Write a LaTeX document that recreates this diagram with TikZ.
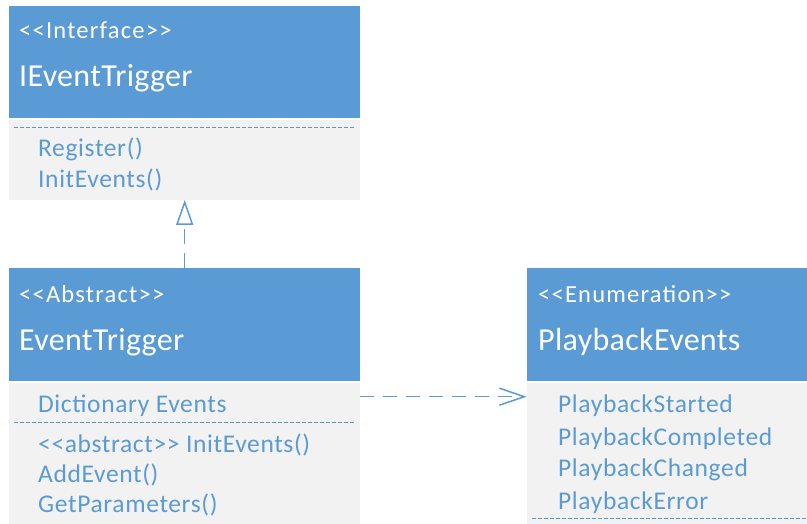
\documentclass[tikz,border=0pt]{standalone}
\usepackage{fontspec}
\setmainfont{Carlito}
\usetikzlibrary{arrows.meta}
\definecolor{hblue}{HTML}{5B9BD5}
\definecolor{bgrey}{HTML}{F2F2F2}
\begin{document}
\begin{tikzpicture}[x=1pt,y=-1pt,
  hdr/.style={fill=hblue,draw=none,anchor=north west,inner sep=0pt},
  bdy/.style={fill=bgrey,draw=none,anchor=north west,inner sep=0pt},
  stereo/.style={anchor=base west,inner sep=0pt,text=white,font=\fontsize{24.5}{28}\selectfont\addfontfeature{LetterSpace=5}},
  ttl/.style={anchor=base west,inner sep=0pt,text=white,font=\fontsize{32}{38}\selectfont\addfontfeature{LetterSpace=1}},
  itm/.style={anchor=base west,inner sep=0pt,text=hblue,font=\fontsize{25.5}{30}\selectfont\addfontfeature{LetterSpace=2.5}},
  sep/.style={draw=hblue,line width=1.4pt,dash pattern=on 4pt off 2pt},
  real/.style={draw=hblue,line width=1.5pt,dash pattern=on 15pt off 9pt,-{Triangle[open,length=25pt,width=17pt,line width=1.5pt]}},
  dep/.style={draw=hblue,line width=1.5pt,dash pattern=on 14pt off 9pt,-{Straight Barb[length=25pt,width=17pt,line width=1.5pt]}}
]
\useasboundingbox (0,0) rectangle (807,524);
% IEventTrigger
\node[hdr,minimum width=351pt,minimum height=111.5pt] (ih) at (9,6) {};
\node[bdy,minimum width=351pt,minimum height=79.5pt] (ib) at (9,120) {};
\node[stereo] (ist) at (19,39) {<{}<Interface>{}>};
\node[ttl] (itt) at (19,87) {IEventTrigger};
\coordinate (isa) at (13.5,127.5);
\coordinate (isb) at (354,127.5);
\draw[sep] (isa) -- (isb);
\node[itm] (im1) at (38,156.5) {Register()};
\node[itm] (im2) at (38,187.5) {InitEvents()};
% EventTrigger
\node[hdr,minimum width=351pt,minimum height=112.5pt] (eh) at (9,268.3) {};
\node[bdy,minimum width=351pt,minimum height=141.3pt] (eb) at (9,382.7) {};
\node[stereo] (est) at (19,302.7) {<{}<Abstract>{}>};
\node[ttl] (ett) at (19,350.7) {EventTrigger};
\node[itm] (ea1) at (38,412.7) {Dictionary Events};
\coordinate (esa) at (13.5,422.5);
\coordinate (esb) at (354,422.5);
\draw[sep] (esa) -- (esb);
\node[itm] (em1) at (38,452.7) {<{}<abstract>{}> InitEvents()};
\node[itm] (em2) at (38,482.7) {AddEvent()};
\node[itm] (em3) at (38,512.7) {GetParameters()};
% PlaybackEvents
\node[hdr,minimum width=280.3pt,minimum height=112.5pt] (ph) at (526.7,268.3) {};
\node[bdy,minimum width=280.3pt,minimum height=141.3pt] (pb) at (526.7,382.7) {};
\node[stereo] (pst) at (538,302.7) {<{}<Enumeration>{}>};
\node[ttl] (ptt) at (538,350.7) {PlaybackEvents};
\node[itm] (p1) at (558,412.7) {PlaybackStarted};
\node[itm] (p2) at (558,445) {PlaybackCompleted};
\node[itm] (p3) at (558,476.7) {PlaybackChanged};
\node[itm] (p4) at (558,509.3) {PlaybackError};
\coordinate (psa) at (531.7,518.5);
\coordinate (psb) at (807,518.5);
\draw[sep] (psa) -- (psb);
% connectors
\draw[real] (eh.north) -- (ib.south);
\draw[dep] ([yshift=-14pt]eb.north east) -- ([yshift=-14pt]pb.north west);
\end{tikzpicture}
\end{document}
